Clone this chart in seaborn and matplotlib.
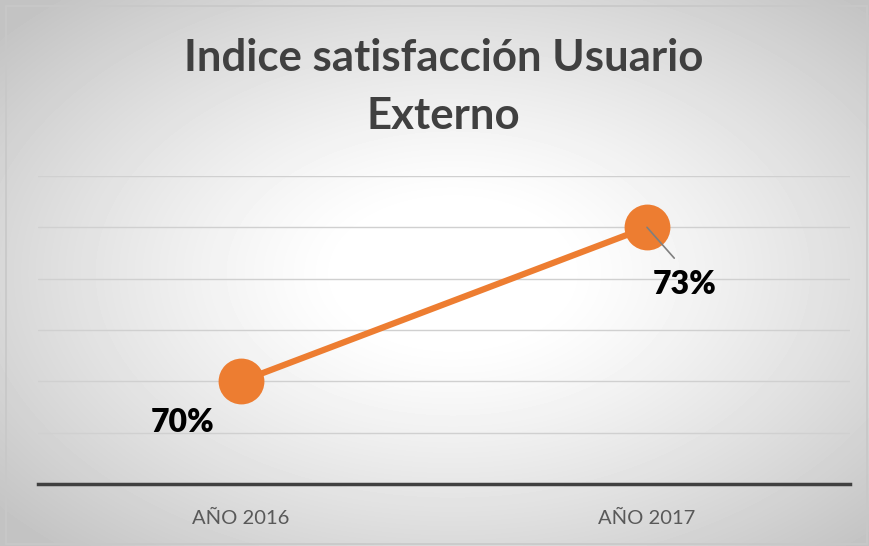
import matplotlib.pyplot as plt
import numpy as np
import seaborn as sns
from matplotlib.patches import Rectangle

# data
years = ['AÑO 2016', 'AÑO 2017']
satisfaction = [70, 73]
point_labels = ['70%', '73%']
grid_levels = [68, 69, 70, 71, 72, 73, 74]
title = 'Indice satisfacción Usuario\nExterno'

sns.set_style('white')
plt.rcParams['font.family'] = ['Lato', 'DejaVu Sans']

W, H = 870, 546
fig = plt.figure(figsize=(W / 100, H / 100), dpi=100)

# radial grey-to-white background of the chart area
bg = fig.add_axes([0, 0, 1, 1])
yy, xx = np.mgrid[0:H, 0:W]
r = np.sqrt(((xx - 0.52 * W) / (0.5 * W)) ** 2 + ((yy - 0.5 * H) / (0.5 * H)) ** 2)
shade = 1 - 0.17 * np.clip((r - 0.25) / 0.85, 0, 1.3) ** 1.2
bg.imshow(shade, cmap='gray', vmin=0, vmax=1, extent=[0, 1, 0, 1], aspect='auto')
bg.add_patch(Rectangle((0.007, 0.004), 0.989, 0.985, fill=False, edgecolor='#c8c8c8', lw=1.2))
bg.set_xlim(0, 1)
bg.set_ylim(0, 1)
bg.axis('off')

ax = fig.add_axes([0.0437, 0.1136, 0.9333, 0.5641])
ax.patch.set_alpha(0)

sns.lineplot(x=years, y=satisfaction, ax=ax, color='#ED7D31', linewidth=4.5,
             marker='o', markersize=33, markeredgewidth=0, sort=False)

ax.set_xlim(-0.5, 1.5)
ax.set_ylim(grid_levels[0], grid_levels[-1])
ax.set_yticks(grid_levels)
ax.set_yticklabels([])
ax.grid(axis='y', color='#d0d0d0', linewidth=1)
ax.grid(axis='x', visible=False)
ax.tick_params(axis='both', length=0)
ax.tick_params(axis='x', labelsize=14.5, labelcolor='#595959', pad=19)
for side in ['left', 'right', 'top']:
    ax.spines[side].set_visible(False)
ax.spines['bottom'].set_color('#404040')
ax.spines['bottom'].set_linewidth(2.5)
ax.set_xlabel('')
ax.set_ylabel('')

# data labels
ax.annotate(point_labels[0], (0, satisfaction[0]), xytext=(-42, -30), textcoords='offset points',
            ha='center', va='center', fontsize=23, fontweight='heavy', color='black')
ax.annotate(point_labels[1], (1, satisfaction[1]), xytext=(27, -41), textcoords='offset points',
            ha='center', va='center', fontsize=23, fontweight='heavy', color='black',
            arrowprops=dict(arrowstyle='-', color='#7f7f7f', lw=1.2, relpos=(0.5, 1.0),
                            shrinkA=8, shrinkB=0))

fig.text(0.51, 0.84, title, ha='center', va='center', fontsize=31.5, fontweight='bold',
         color='#404040', linespacing=1.55)

fig.savefig('out.png', dpi=100)
